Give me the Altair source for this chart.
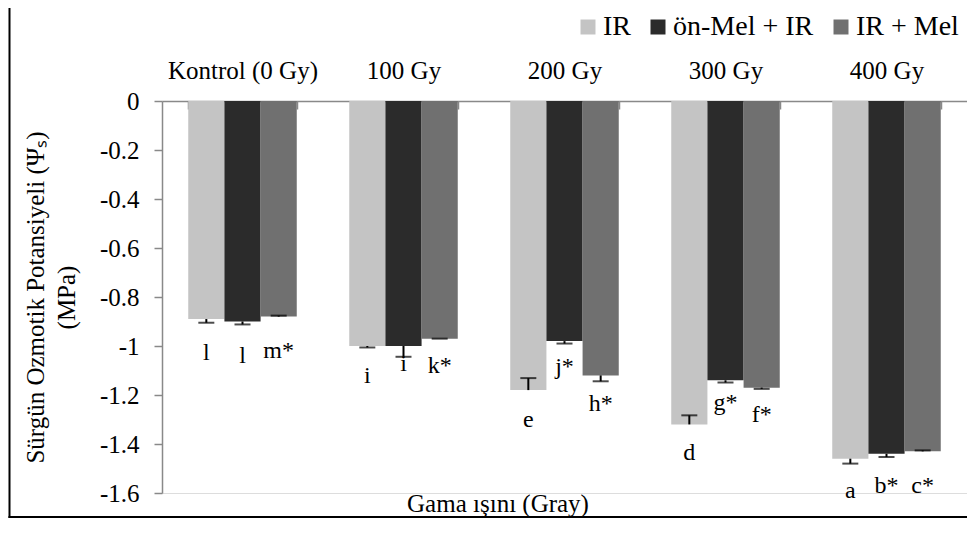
import altair as alt
import pandas as pd

# ---- data ----
groups = ["Kontrol (0 Gy)", "100 Gy", "200 Gy", "300 Gy", "400 Gy"]
treatments = ["IR", "ön-Mel + IR", "IR + Mel"]

ir_vals = [-0.89, -1.00, -1.18, -1.32, -1.46]
premel_vals = [-0.90, -1.00, -0.98, -1.14, -1.44]
irmel_vals = [-0.88, -0.97, -1.12, -1.17, -1.43]

# error bar end (cap) positions
ir_cap = [-0.905, -1.006, -1.131, -1.283, -1.48]
premel_cap = [-0.912, -1.044, -0.99, -1.149, -1.453]
irmel_cap = [-0.876, -0.97, -1.144, -1.175, -1.426]

# significance letters and their baseline positions
ir_letters = ["l", "i", "e", "d", "a"]
premel_letters = ["l", "i", "j*", "g*", "b*"]
irmel_letters = ["m*", "k*", "h*", "f*", "c*"]
ir_lab = [-1.057, -1.151, -1.332, -1.466, -1.620]
premel_lab = [-1.070, -1.104, -1.115, -1.262, -1.600]
irmel_lab = [-1.050, -1.111, -1.265, -1.312, -1.598]

y_ticks = [0, -0.2, -0.4, -0.6, -0.8, -1.0, -1.2, -1.4, -1.6]

bar_colors = ["#c4c4c4", "#2b2b2b", "#707070"]

rows = []
for t, vals, caps, lets, labs in [
    (treatments[0], ir_vals, ir_cap, ir_letters, ir_lab),
    (treatments[1], premel_vals, premel_cap, premel_letters, premel_lab),
    (treatments[2], irmel_vals, irmel_cap, irmel_letters, irmel_lab),
]:
    for g, v, c, l, lb in zip(groups, vals, caps, lets, labs):
        rows.append({"group": g, "treatment": t, "value": v, "cap": c,
                     "letter": l, "lab": lb})
df = pd.DataFrame(rows)

FONT = "Liberation Serif"
W, H = 805, 392
GRAY = "#898989"

x_enc = alt.X(
    "group:N", sort=groups,
    scale=alt.Scale(paddingInner=0.326, paddingOuter=0.163),
    axis=alt.Axis(
        orient="bottom", offset=-H, title=None, labelAngle=0,
        tickBand="extent", tickSize=8, tickColor=GRAY, tickWidth=1.5,
        domainColor=GRAY, domainWidth=1.5,
        labelFont=FONT, labelFontSize=25, labelColor="black",
        labelBaseline="alphabetic", labelPadding=-31,
    ),
)
xo_enc = alt.XOffset("treatment:N", sort=treatments)
y_scale = alt.Scale(domain=[-1.6, 0], nice=False, zero=False)

base = alt.Chart(df)

bars = base.mark_bar(strokeWidth=0).encode(
    x=x_enc,
    xOffset=xo_enc,
    y=alt.Y(
        "value:Q", scale=y_scale,
        axis=alt.Axis(
            values=y_ticks, grid=False,
            labelExpr="datum.value == 0 ? '0' : '-' + format(abs(datum.value), '~g')",
            labelFont=FONT, labelFontSize=25, labelColor="black", labelPadding=15,
            tickSize=8, tickColor=GRAY, tickWidth=1.5,
            domainColor=GRAY, domainWidth=1.5,
            title=["Sürgün Ozmotik Potansiyeli (Ψₛ)", "(MPa)"],
            titleFont=FONT, titleFontSize=25, titleFontWeight="normal",
            titleColor="black", titleLineHeight=31,
            titleAngle=270, titleX=-119, titleY=196,
            titleAlign="center", titleBaseline="alphabetic",
        ),
    ),
    y2=alt.datum(0),
    fill=alt.Fill(
        "treatment:N", sort=treatments,
        scale=alt.Scale(domain=treatments, range=bar_colors),
        legend=alt.Legend(
            title=None, orient="none", direction="horizontal",
            legendX=412, legendY=-88, padding=0,
            symbolType="square", symbolSize=225, symbolStrokeWidth=0,
            labelFont=FONT, labelFontSize=28, labelColor="black",
            labelOffset=1, columnPadding=13, labelLimit=400,
        ),
    ),
)

err = base.mark_rule(color="black", strokeWidth=2).encode(
    x=alt.X("group:N", sort=groups), xOffset=xo_enc,
    y=alt.Y("value:Q", scale=y_scale), y2="cap:Q",
)
caps = base.mark_tick(color="black", size=16, thickness=2, orient="horizontal").encode(
    x=alt.X("group:N", sort=groups), xOffset=xo_enc,
    y=alt.Y("cap:Q", scale=y_scale),
)
letters = base.mark_text(font=FONT, fontSize=24, color="black",
                         baseline="alphabetic", align="center").encode(
    x=alt.X("group:N", sort=groups), xOffset=xo_enc,
    y=alt.Y("lab:Q", scale=y_scale),
    text="letter:N",
)

one = alt.Chart(pd.DataFrame({"k": [0]}))
x_title = one.mark_text(font=FONT, fontSize=25, color="black",
                        baseline="alphabetic", align="center").encode(
    x=alt.value(336), y=alt.value(411), text=alt.value("Gama ışını (Gray)"))
border_left = one.mark_rule(color="black", strokeWidth=2).encode(
    x=alt.value(-152.5), y=alt.value(-101), y2=alt.value(417))
border_bottom = one.mark_rule(color="black", strokeWidth=2).encode(
    x=alt.value(-153.5), x2=alt.value(806), y=alt.value(416))

chart = alt.layer(bars, err, caps, letters, x_title, border_left, border_bottom).properties(
    width=W, height=H,
    autosize="none",
    padding={"left": 154, "top": 93, "right": 0, "bottom": 25},
).configure_view(stroke=None).configure(background="white")

chart.save("out.html", embed_options={"renderer": "svg", "actions": False})
